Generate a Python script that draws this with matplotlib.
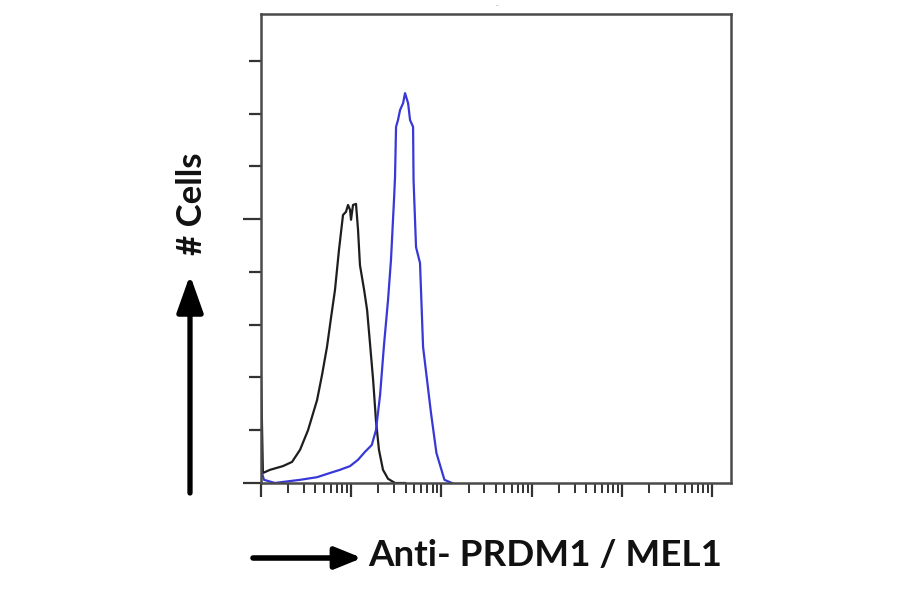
import matplotlib.pyplot as plt
from matplotlib.ticker import LogLocator, MultipleLocator, NullFormatter

# isotype control (black) - fluorescence channel vs cell count
ctrl_x = [1.0, 1.05, 1.26, 1.75, 2.21, 2.71, 3.32, 4.18, 4.75, 5.39, 5.97, 6.61,
          7.32, 8.11, 8.75, 9.22, 9.70, 9.95, 10.47, 11.3, 11.9, 12.5, 13.9, 15.0,
          16.2, 17.5, 18.8, 20.3, 22.5, 25.6, 30.6, 39.5]
ctrl_y = [20.9, 1.9, 2.5, 3.2, 4.0, 6.3, 10.0, 15.7, 20.5, 25.8, 31.3, 36.6,
          44.2, 50.8, 51.4, 52.7, 51.8, 49.9, 52.7, 52.9, 48.0, 41.3, 36.6, 32.8,
          26.2, 19.5, 11.9, 6.3, 2.5, 0.8, 0.0, 0.0]

# anti-PRDM1 / MEL1 stained (blue)
prdm_x = [1.0, 1.08, 1.43, 1.75, 2.71, 4.18, 5.82, 7.51, 9.70, 11.9, 14.2, 16.9,
          18.8, 20.9, 23.1, 25.6, 27.6, 29.8, 30.6, 31.4, 33.0, 34.8, 37.6, 39.5,
          42.7, 44.9, 48.5, 49.1, 52.3, 57.9, 62.6, 76.6, 88.0, 108.0, 131.0]
prdm_y = [2.5, 0.6, 0.0, 0.2, 0.6, 1.1, 1.9, 2.5, 3.2, 4.4, 5.9, 7.2,
          10.0, 16.7, 26.2, 34.7, 42.3, 53.6, 58.0, 67.5, 68.8, 70.7, 72.0, 73.9,
          72.0, 68.8, 67.5, 57.4, 44.7, 41.7, 25.8, 13.3, 5.7, 0.6, 0.0]

W, H = 900, 594
fig = plt.figure(figsize=(9, 5.94), dpi=100)
ax = fig.add_axes([261 / W, 1 - 483 / H, (731 - 261) / W, (483 - 14) / H])

ax.plot(ctrl_x, ctrl_y, color="#1e1e1e", lw=1.6)
ax.plot(prdm_x, prdm_y, color="#3838d8", lw=1.6)

ax.set_xscale("log")
ax.set_xlim(1, 10 ** 5.21)
ax.set_ylim(0, 88.9)

ax.xaxis.set_major_locator(LogLocator(base=10, numticks=10))
ax.xaxis.set_minor_locator(LogLocator(base=10, subs=range(2, 10), numticks=50))
ax.xaxis.set_major_formatter(NullFormatter())
ax.xaxis.set_minor_formatter(NullFormatter())
ax.yaxis.set_major_locator(MultipleLocator(50))
ax.yaxis.set_minor_locator(MultipleLocator(10))
ax.yaxis.set_major_formatter(NullFormatter())

ax.tick_params(axis="x", which="major", direction="out", length=10, width=1.6, color="#333333")
ax.tick_params(axis="x", which="minor", direction="out", length=7, width=1.4, color="#333333")
ax.tick_params(axis="y", which="major", direction="out", length=13, width=1.6, color="#333333")
ax.tick_params(axis="y", which="minor", direction="out", length=9, width=1.6, color="#333333")
for sp in ax.spines.values():
    sp.set_color("#4a4a4a")
    sp.set_linewidth(1.8)

# axis labels with arrows, drawn in figure pixels
ax.annotate("", xy=(190, H - 275), xytext=(190, H - 493), xycoords="figure pixels",
            textcoords="figure pixels",
            arrowprops=dict(arrowstyle="-|>,head_length=0.45,head_width=0.16",
                            mutation_scale=50, lw=3.8, color="black",
                            shrinkA=0, shrinkB=0))
ax.annotate("", xy=(362, H - 558), xytext=(253, H - 558), xycoords="figure pixels",
            textcoords="figure pixels",
            arrowprops=dict(arrowstyle="-|>,head_length=0.32,head_width=0.13",
                            mutation_scale=50, lw=4.0, color="black",
                            shrinkA=0, shrinkB=0))

fig.text(192 / W, 1 - 204 / H, "# Cells", rotation=90, ha="center", va="center",
         fontsize=25, fontweight="bold", family="Lato", color="#111111")
fig.text(368 / W, 1 - 556 / H, "Anti- PRDM1 / MEL1", ha="left", va="center",
         fontsize=26.5, fontweight="bold", family="Lato", color="#111111")
fig.text(497 / W, 1 - 5 / H, "-", ha="center", va="center", fontsize=5, color="#999999")

fig.savefig("out.png", dpi=100)
